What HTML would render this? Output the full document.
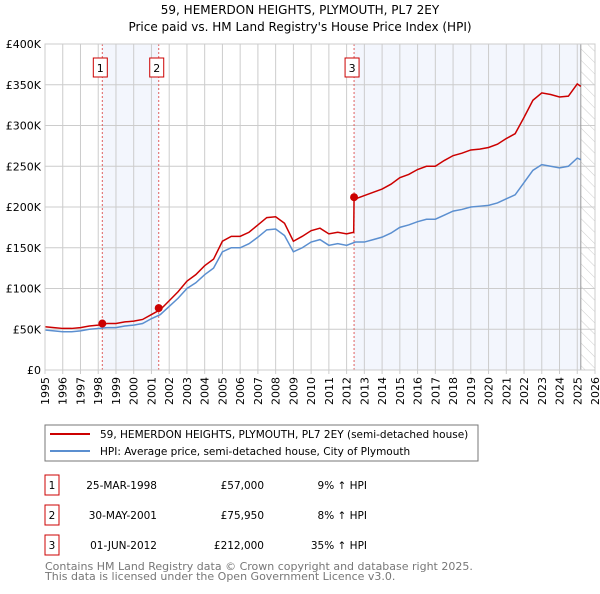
<!DOCTYPE html>
<html><head><meta charset="utf-8"><style>
body{margin:0;background:#fff;font-family:"DejaVu Sans","Liberation Sans",sans-serif;}
svg text{font-family:"DejaVu Sans","Liberation Sans",sans-serif;}
</style></head><body>
<svg id="chart" width="600" height="590" viewBox="0 0 600 590" xmlns="http://www.w3.org/2000/svg">
<defs><pattern id="hatch" width="8" height="8" patternUnits="userSpaceOnUse" patternTransform="rotate(-45)"><line x1="0" y1="0" x2="0" y2="8" stroke="#ccc" stroke-width="1"/></pattern></defs>
<text x="300" y="14" text-anchor="middle" font-size="12" fill="#000">59, HEMERDON HEIGHTS, PLYMOUTH, PL7 2EY</text>
<text x="300" y="31" text-anchor="middle" font-size="12" fill="#000">Price paid vs. HM Land Registry's House Price Index (HPI)</text>
<g id="plot"></g>
<rect x="45" y="425" width="433" height="36" fill="#fff" stroke="#777"/>
<line x1="50" y1="434" x2="90" y2="434" stroke="#cc0000" stroke-width="2"/>
<text x="100" y="438" font-size="10.5">59, HEMERDON HEIGHTS, PLYMOUTH, PL7 2EY (semi-detached house)</text>
<line x1="50" y1="451" x2="90" y2="451" stroke="#5b8fd0" stroke-width="2"/>
<text x="100" y="455" font-size="10.5">HPI: Average price, semi-detached house, City of Plymouth</text>
<g font-size="10.5">
<rect x="45" y="475" width="14" height="20" fill="none" stroke="#cc0000"/><text x="52" y="489" text-anchor="middle">1</text>
<text x="157" y="489" text-anchor="end">25-MAR-1998</text><text x="264" y="489" text-anchor="end">£57,000</text><text x="367" y="489" text-anchor="end">9% ↑ HPI</text>
<rect x="45" y="505" width="14" height="20" fill="none" stroke="#cc0000"/><text x="52" y="519" text-anchor="middle">2</text>
<text x="157" y="519" text-anchor="end">30-MAY-2001</text><text x="264" y="519" text-anchor="end">£75,950</text><text x="367" y="519" text-anchor="end">8% ↑ HPI</text>
<rect x="45" y="535" width="14" height="20" fill="none" stroke="#cc0000"/><text x="52" y="549" text-anchor="middle">3</text>
<text x="157" y="549" text-anchor="end">01-JUN-2012</text><text x="264" y="549" text-anchor="end">£212,000</text><text x="367" y="549" text-anchor="end">35% ↑ HPI</text>
</g>
<text x="45" y="570" font-size="11" fill="#777">Contains HM Land Registry data © Crown copyright and database right 2025.</text>
<text x="45" y="580" font-size="11" fill="#777">This data is licensed under the Open Government Licence v3.0.</text>
</svg>
<script>
const hpiDates=[1995,1995.5,1996,1996.5,1997,1997.5,1998,1998.5,1999,1999.5,2000,2000.5,2001,2001.5,2002,2002.5,2003,2003.5,2004,2004.5,2005,2005.5,2006,2006.5,2007,2007.5,2008,2008.5,2009,2009.5,2010,2010.5,2011,2011.5,2012,2012.5,2013,2013.5,2014,2014.5,2015,2015.5,2016,2016.5,2017,2017.5,2018,2018.5,2019,2019.5,2020,2020.5,2021,2021.5,2022,2022.5,2023,2023.5,2024,2024.5,2025,2025.2];
const hpiValues=[49,48,47,47,48,50,51,52,52,54,55,57,63,68,78,88,100,107,117,125,145,150,150,155,163,172,173,165,145,150,157,160,153,155,153,157,157,160,163,168,175,178,182,185,185,190,195,197,200,201,202,205,210,215,230,245,252,250,248,250,260,258];
const priceDates=[1995,1995.5,1996,1996.5,1997,1997.5,1998,1998.5,1999,1999.5,2000,2000.5,2001,2001.5,2002,2002.5,2003,2003.5,2004,2004.5,2005,2005.5,2006,2006.5,2007,2007.5,2008,2008.5,2009,2009.5,2010,2010.5,2011,2011.5,2012,2012.4,2012.42,2012.5,2013,2013.5,2014,2014.5,2015,2015.5,2016,2016.5,2017,2017.5,2018,2018.5,2019,2019.5,2020,2020.5,2021,2021.5,2022,2022.5,2023,2023.5,2024,2024.5,2025,2025.2];
const priceValues=[53,52,51,51,52,54,55,57,57,59,60,62,68,74,85,96,109,117,128,136,158,164,164,169,178,187,188,180,158,164,171,174,167,169,167,169,212,210,214,218,222,228,236,240,246,250,250,257,263,266,270,271,273,277,284,290,310,331,340,338,335,336,351,348];
const saleDates=[1998.23,2001.41,2012.42];
const saleValues=[57000,75950,212000];
const saleLabels=["1","2","3"];
const yTicks=[0,50,100,150,200,250,300,350,400];
const yTickLabels=["£0","£50K","£100K","£150K","£200K","£250K","£300K","£350K","£400K"];
const xTicks=[1995,1996,1997,1998,1999,2000,2001,2002,2003,2004,2005,2006,2007,2008,2009,2010,2011,2012,2013,2014,2015,2016,2017,2018,2019,2020,2021,2022,2023,2024,2025,2026];

const X0=45,X1=595,Y0=370,Y1=44;
const xs=d=>X0+(d-1995)/(2026-1995)*(X1-X0);
const ys=v=>Y0-v/400*(Y0-Y1);
const NS="http://www.w3.org/2000/svg";
const g=document.getElementById('plot');
function mk(t,a){const e=document.createElementNS(NS,t);for(const k in a)e.setAttribute(k,a[k]);g.appendChild(e);return e;}
let e;
e=mk('rect',{x:xs(saleDates[0]),y:Y1,width:xs(saleDates[1])-xs(saleDates[0]),height:Y0-Y1,fill:'#f3f6fd'});


e=mk('rect',{x:xs(saleDates[2]),y:Y1,width:xs(2025.2)-xs(saleDates[2]),height:Y0-Y1,fill:'#f3f6fd'});


e=mk('rect',{x:xs(2025.2),y:Y1,width:X1-xs(2025.2),height:Y0-Y1,fill:'url(#hatch)'});


xTicks.forEach((t,i)=>{
  e=mk('line',{x1:xs(t),x2:xs(t),y1:Y1,y2:Y0+4,stroke:'#ccc'});
  
  
  e=mk('text',{x:0,y:0,'font-size':11,'text-anchor':'end',transform:`translate(${xs(t)+4},${Y0+7}) rotate(-90)`});
  e.textContent=t;
  
  
});
yTicks.forEach((t,i)=>{
  e=mk('line',{x1:X0,x2:X1,y1:ys(t),y2:ys(t),stroke:'#ccc'});
  
  
  e=mk('text',{x:X0-4,y:ys(t)+4,'font-size':11,'text-anchor':'end'});
  e.textContent=yTickLabels[i];
  
  
});
e=mk('line',{x1:xs(2025.2),x2:xs(2025.2),y1:Y1,y2:Y0,stroke:'#999','stroke-width':1});


saleDates.forEach((d,i)=>{
  e=mk('line',{x1:xs(d),x2:xs(d),y1:Y1,y2:Y0,stroke:'#e06060','stroke-dasharray':'2,2'});
  
  
  e=mk('rect',{x:xs(d)-9,y:58,width:14,height:19,fill:'#fff',stroke:'#cc0000'});
  
  
  e=mk('text',{x:xs(d)-2,y:72,'font-size':11,'text-anchor':'middle'});
  e.textContent=saleLabels[i];
  
  
});
e=mk('polyline',{points:hpiDates.map((d,i)=>xs(d)+','+ys(hpiValues[i])).join(' '),fill:'none',stroke:'#5b8fd0','stroke-width':1.5});


e=mk('polyline',{points:priceDates.map((d,i)=>xs(d)+','+ys(priceValues[i])).join(' '),fill:'none',stroke:'#cc0000','stroke-width':1.5});


saleDates.forEach((d,i)=>{
  e=mk('circle',{cx:xs(d),cy:ys(saleValues[i]/1000),r:4,fill:'#cc0000'});
  
  
});
e=mk('rect',{x:X0,y:Y1,width:X1-X0,height:Y0-Y1,fill:'none',stroke:'#ccc'});


</script>
</body></html>
